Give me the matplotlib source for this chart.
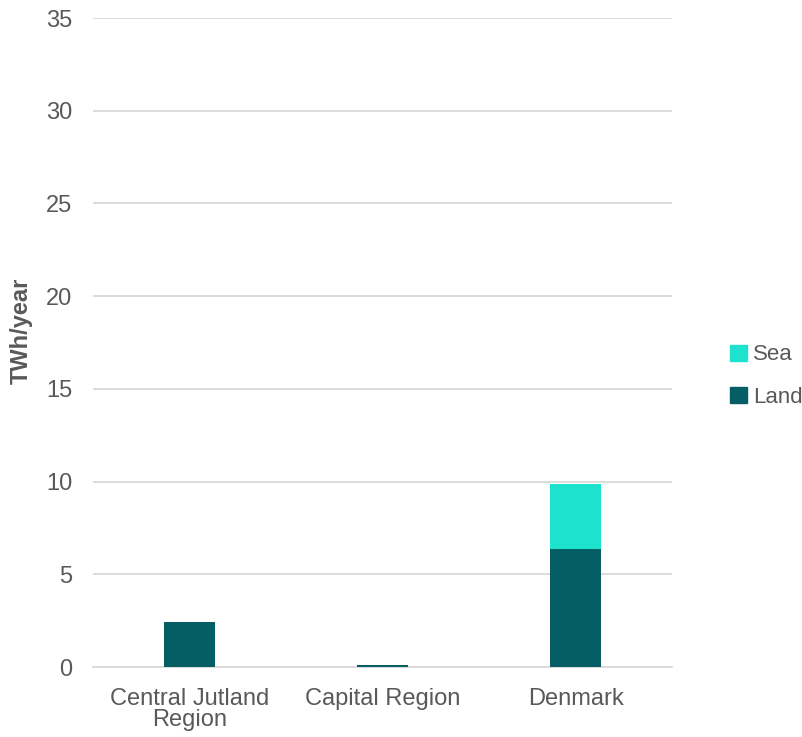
import matplotlib
matplotlib.use("Agg")
import matplotlib.pyplot as plt
from matplotlib.patches import Patch

categories = ["Central Jutland\nRegion", "Capital Region", "Denmark"]
land = [2.43, 0.1, 6.36]
sea = [0.0, 0.0, 3.52]
yticks = [0, 5, 10, 15, 20, 25, 30, 35]

LAND = "#045E63"
SEA = "#1DE3CE"
TXT = "#595959"
FS = 17

plt.rcParams['font.family'] = ['Liberation Sans', 'DejaVu Sans']

fig = plt.figure(figsize=(8.02, 7.37), dpi=100)
ax = fig.add_axes([93/802, 1-667/737, (672-93)/802, (667-18)/737])

x = list(range(len(categories)))
w = 0.265
ax.bar(x, land, width=w, color=LAND, zorder=3)
ax.bar(x, sea, width=w, bottom=land, color=SEA, zorder=3)

ax.set_xlim(-0.5, 2.5)
ax.set_ylim(0, 35)
ax.set_yticks(yticks)
ax.yaxis.grid(True, color="#D9D9D9", linewidth=1.3, zorder=0)
ax.set_xticks(x)
ax.set_xticklabels(categories, fontsize=FS, color=TXT, linespacing=0.95)
ax.tick_params(axis='y', labelsize=FS, labelcolor=TXT, length=0, pad=15)
ax.tick_params(axis='x', length=0, pad=15)
for s in ["top", "right", "left"]:
    ax.spines[s].set_visible(False)
ax.spines["bottom"].set_color("#D9D9D9")
ax.spines["bottom"].set_linewidth(1.3)

ax.set_ylabel("TWh/year", fontsize=FS, fontweight="bold", color=TXT)
ax.yaxis.set_label_coords(-(93 - 33) / (672 - 93), (667 - 331) / (667 - 18))

handles = [Patch(color=SEA, label="Sea"), Patch(color=LAND, label="Land")]
fig.legend(handles=handles, loc="center left", bbox_to_anchor=(730/802, 1-376/737),
           frameon=False, fontsize=16, labelcolor=TXT, handlelength=0.75, handleheight=0.75,
           handletextpad=0.3, labelspacing=0.95, borderpad=0, borderaxespad=0)

fig.savefig("out.png", dpi=100, facecolor="white")
